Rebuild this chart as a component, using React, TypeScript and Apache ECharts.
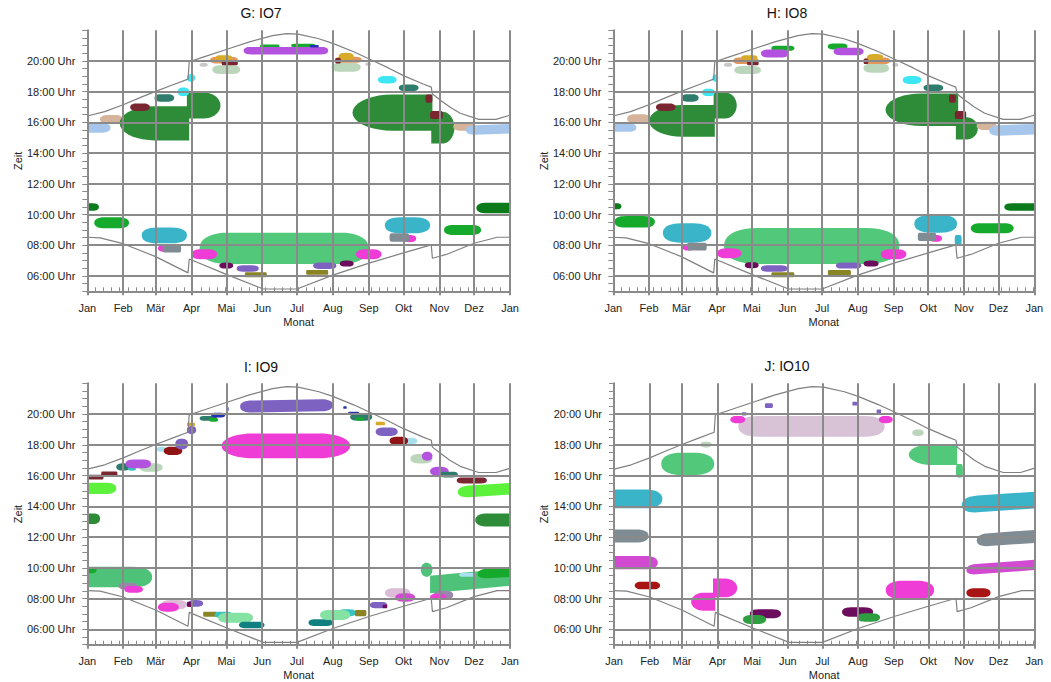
import React, { useEffect, useRef } from 'react';
import * as echarts from 'echarts';

// ---------- data ----------
const monthLabels = ['Jan', 'Feb', 'Mär', 'Apr', 'Mai', 'Jun', 'Jul', 'Aug', 'Sep', 'Okt', 'Nov', 'Dez', 'Jan'];
const monthStarts = [0, 31, 59, 90, 120, 151, 181, 212, 243, 273, 304, 334, 365];
const hourLines = [6, 8, 10, 12, 14, 16, 18, 20];
const panelTitles = ['G: IO7', 'H: IO8', 'I: IO9', 'J: IO10'];

// [day of year, hour]
const sunsetCurve: number[][] = [
  [0, 16.42], [15, 16.7], [31, 17.15], [45, 17.6], [59, 18.02], [74, 18.45], [87, 18.82], [88, 19.95],
  [100, 20.25], [120, 20.75], [140, 21.25], [160, 21.65], [172, 21.78], [182, 21.75], [200, 21.45],
  [212, 21.15], [230, 20.6], [243, 20.15], [260, 19.55], [273, 19.05], [290, 18.5], [297, 18.3],
  [298, 17.85], [305, 17.45], [313, 17.0], [322, 16.6], [338, 16.2], [353, 16.2], [364, 16.45], [365, 16.47],
];
const sunriseCurve: number[][] = [
  [0, 8.52], [11, 8.48], [31, 8.1], [59, 7.26], [87, 6.2], [88, 7.1], [120, 6.1], [152, 5.15],
  [181, 5.15], [212, 6.05], [244, 6.85], [273, 7.5], [297, 8.02], [298, 7.15], [310, 7.4],
  [334, 8.13], [354, 8.52], [365, 8.52],
];

// shadow periods: [first day, last day, hour from, hour to, receptor colour key, cut side, rise over period (h)]
const blobsG: any[][] = [
  [0, 20, 15.33, 15.98, 'ltblue'], [11, 31, 15.93, 16.48, 'tan'],
  [28, 88, 14.83, 17.06, 'dkgreen', 'l'], [86, 115, 16.26, 17.95, 'dkgreen', 'r'],
  [37, 54, 16.74, 17.24, 'maroon'], [58, 75, 17.35, 17.84, 'dteal'], [78, 88, 17.71, 18.28, 'cyan'],
  [86, 93, 18.65, 19.15, 'cyan'], [97, 104, 19.62, 19.88, 'ltgray'], [108, 132, 19.15, 19.73, 'palegreen'],
  [106, 130, 19.84, 20.27, 'orange'], [111, 125, 20.06, 20.38, 'gold'], [116, 130, 19.73, 20.06, 'maroon', 's'],
  [149, 166, 20.86, 21.08, 'green'], [176, 197, 20.9, 21.12, 'green'], [135, 208, 20.43, 20.92, 'violet'],
  [192, 200, 20.88, 21.05, 'blue'],
  [211, 236, 19.3, 19.88, 'palegreen'], [214, 237, 19.88, 20.27, 'orange'], [217, 230, 20.06, 20.53, 'gold'],
  [214, 219, 19.84, 20.2, 'maroon', 's'], [240, 245, 19.68, 19.9, 'ltgray'], [251, 267, 18.54, 19.02, 'cyan'],
  [269, 286, 18.04, 18.47, 'dteal'], [229, 298, 15.46, 17.82, 'dkgreen', 'l'], [297, 317, 14.63, 16.69, 'dkgreen', 'r'],
  [292, 298, 17.28, 17.82, 'maroon', 's'], [296, 307, 16.22, 16.74, 'maroon', 's'],
  [316, 335, 15.46, 15.98, 'tan'], [327, 365, 15.18, 15.8, 'ltblue', 'p', 0.1],
  [0, 10, 10.25, 10.73, 'forest'], [6, 36, 9.1, 9.82, 'green'], [47, 86, 8.13, 9.15, 'teal'],
  [61, 71, 7.58, 8.02, 'magenta'], [65, 81, 7.52, 8.02, 'gray', 's'], [97, 243, 6.78, 8.82, 'ltgreen'],
  [90, 112, 7.08, 7.74, 'magenta'], [232, 254, 7.08, 7.74, 'magenta'], [114, 126, 6.48, 6.87, 'dpurple'],
  [129, 148, 6.28, 6.69, 'mpurple'], [136, 155, 5.91, 6.24, 'olive', 's'], [189, 208, 6.07, 6.39, 'olive', 's'],
  [195, 215, 6.46, 6.87, 'mpurple'], [218, 230, 6.61, 7.0, 'dpurple'], [257, 296, 8.78, 9.82, 'teal'],
  [273, 284, 8.2, 8.67, 'magenta'], [261, 278, 8.23, 8.78, 'gray', 's'], [308, 340, 8.67, 9.32, 'green'],
  [336, 365, 10.08, 10.77, 'forest'],
];

const blobsH: any[][] = [
  [0, 20, 15.39, 15.93, 'ltblue'], [12, 32, 15.93, 16.54, 'tan'],
  [31, 88, 15.07, 17.13, 'dkgreen', 'l'], [87, 107, 16.26, 17.95, 'dkgreen', 'r'],
  [37, 54, 16.74, 17.24, 'maroon'], [59, 74, 17.35, 17.84, 'dteal'], [77, 88, 17.71, 18.2, 'cyan'],
  [86, 91, 18.65, 19.12, 'cyan'], [96, 103, 19.62, 19.88, 'ltgray'], [105, 128, 19.15, 19.67, 'palegreen'],
  [104, 126, 19.8, 20.23, 'orange'], [111, 125, 20.06, 20.38, 'gold'], [116, 126, 19.73, 20.0, 'maroon', 's'],
  [137, 157, 20.66, 20.99, 'green'], [128, 152, 20.23, 20.75, 'violet'],
  [186, 203, 20.75, 21.14, 'green'], [191, 217, 20.38, 20.86, 'violet'],
  [217, 239, 19.23, 19.84, 'palegreen'], [217, 240, 19.8, 20.23, 'orange'], [220, 234, 20.06, 20.45, 'gold'],
  [217, 221, 19.8, 20.15, 'maroon', 's'], [242, 247, 19.62, 19.88, 'ltgray'], [251, 267, 18.5, 19.02, 'cyan'],
  [269, 286, 18.04, 18.47, 'dteal'], [236, 299, 15.76, 17.89, 'dkgreen', 'l'], [297, 316, 14.89, 16.33, 'dkgreen', 'r'],
  [291, 297, 17.28, 17.82, 'maroon', 's'], [296, 306, 16.22, 16.74, 'maroon', 's'],
  [315, 332, 15.5, 16.04, 'tan'], [326, 365, 15.11, 15.8, 'ltblue', 'p', 0.1],
  [0, 7, 10.34, 10.73, 'forest'], [1, 36, 9.15, 9.9, 'green'], [43, 85, 8.17, 9.43, 'teal'],
  [60, 70, 7.65, 8.1, 'magenta'], [64, 81, 7.65, 8.17, 'gray', 's'], [96, 248, 6.78, 9.12, 'ltgreen'],
  [90, 111, 7.15, 7.8, 'magenta'], [232, 254, 7.08, 7.74, 'magenta'], [114, 126, 6.5, 6.9, 'dpurple'],
  [128, 151, 6.28, 6.69, 'mpurple'], [137, 157, 5.91, 6.24, 'olive', 's'], [186, 206, 6.02, 6.39, 'olive', 's'],
  [193, 215, 6.48, 6.87, 'mpurple'], [217, 230, 6.61, 7.0, 'dpurple'], [261, 298, 8.82, 9.97, 'teal'],
  [274, 285, 8.22, 8.67, 'magenta'], [264, 280, 8.28, 8.82, 'gray', 's'], [296, 302, 8.02, 8.67, 'teal', 's'],
  [310, 347, 8.78, 9.43, 'green'], [339, 365, 10.25, 10.73, 'forest'],
];

const blobsI: any[][] = [
  [0, 25, 14.8, 15.54, 'lime'], [1, 14, 15.75, 16.05, 'maroon', 's'], [12, 26, 15.9, 16.27, 'maroon', 's'],
  [0, 11, 12.85, 13.54, 'dkgreen'], [25, 37, 16.32, 16.8, 'dteal'], [35, 42, 16.32, 16.55, 'cyan2'],
  [45, 65, 16.25, 16.8, 'palegreen'], [33, 55, 16.47, 17.05, 'violet'], [60, 68, 17.55, 17.88, 'ltcyan'],
  [66, 82, 17.33, 17.88, 'dred'], [76, 87, 17.7, 18.4, 'mpurple'], [86, 93, 19.22, 19.44, 'gold', 's'],
  [86, 94, 18.7, 19.22, 'mpurple'], [97, 112, 19.57, 19.87, 'dteal'], [105, 113, 19.5, 19.75, 'green'],
  [107, 119, 19.78, 20.08, 'blue'], [120, 122, 20.2, 20.45, 'blue', 's'],
  [132, 212, 20.09, 20.87, 'mpurple', 'p', 0.1], [116, 227, 17.12, 18.74, 'magenta', 'e'],
  [221, 224, 20.35, 20.5, 'blue', 's'], [227, 246, 19.57, 20.05, 'dteal'], [225, 235, 19.95, 20.15, 'blue'],
  [232, 239, 19.57, 19.8, 'green'], [249, 257, 19.27, 19.5, 'gold', 's'], [249, 268, 18.57, 19.13, 'mpurple'],
  [266, 285, 18.05, 18.45, 'ltcyan'], [261, 277, 17.98, 18.53, 'dred'], [279, 298, 16.79, 17.4, 'palegreen'],
  [289, 298, 16.97, 17.55, 'violet'], [296, 312, 15.97, 16.58, 'violet'], [304, 320, 15.88, 16.25, 'dteal'],
  [319, 345, 15.49, 15.88, 'maroon'], [320, 365, 14.55, 15.3, 'lime', 'p', 0.22],
  [335, 365, 12.68, 13.54, 'dkgreen'],
  [0, 56, 8.73, 10.07, 'mgreen'], [0, 8, 9.65, 10.05, 'green'], [27, 43, 8.6, 9.03, 'grayviolet'],
  [32, 48, 8.38, 8.82, 'magenta'], [64, 86, 7.3, 7.9, 'pink'], [61, 79, 7.15, 7.73, 'magenta'],
  [87, 100, 7.47, 7.9, 'mpurple'], [86, 91, 7.45, 7.8, 'dpurple', 's'], [100, 112, 6.82, 7.15, 'olive', 's'],
  [110, 125, 6.75, 7.15, 'cyan2'], [113, 143, 6.43, 7.08, 'lgreen2'], [131, 153, 6.07, 6.5, 'darkteal'],
  [191, 212, 6.22, 6.65, 'darkteal'], [216, 232, 6.85, 7.3, 'cyan2'], [201, 227, 6.61, 7.26, 'lgreen2'],
  [231, 241, 6.85, 7.26, 'olive', 's'], [244, 259, 7.37, 7.78, 'mpurple'], [255, 259, 7.37, 7.6, 'dpurple', 's'],
  [257, 279, 8.06, 8.67, 'pink'], [266, 283, 7.8, 8.34, 'violet2'],
  [288, 298, 9.42, 10.33, 'mgreen', 'e'], [296, 365, 8.34, 9.48, 'mgreen', 'r', 0.5],
  [321, 335, 9.42, 9.68, 'ltcyan'], [337, 365, 9.3, 9.9, 'green', 'p', 0.1], [299, 316, 7.95, 8.51, 'grayviolet'],
  [296, 310, 7.9, 8.3, 'magenta'],
];

const blobsJ: any[][] = [
  [0, 42, 13.87, 15.1, 'teal'], [0, 30, 11.64, 12.5, 'gray'], [0, 38, 9.9, 10.77, 'violet2'],
  [18, 40, 8.6, 9.1, 'red'], [41, 87, 16.03, 17.49, 'ltgreen'], [75, 85, 17.83, 18.2, 'palegreen'],
  [86, 107, 8.08, 9.3, 'magenta', 'r'], [67, 88, 7.21, 8.38, 'magenta', 'l'],
  [108, 235, 18.53, 19.87, 'lilac'], [101, 114, 19.4, 19.88, 'magenta'], [230, 242, 19.4, 19.88, 'magenta'],
  [111, 115, 19.9, 20.12, 'mpurple', 's'], [131, 138, 20.4, 20.7, 'mpurple', 's'],
  [207, 212, 20.55, 20.8, 'mpurple', 's'], [228, 232, 20.05, 20.3, 'mpurple', 's'],
  [259, 269, 18.57, 19.0, 'palegreen'], [256, 298, 16.68, 18.05, 'ltgreen', 'l'], [297, 303, 15.88, 16.75, 'ltgreen', 's'],
  [302, 365, 13.54, 14.63, 'teal', 'p', 0.32],
  [315, 365, 11.36, 12.2, 'gray', 'p', 0.26],
  [306, 365, 9.53, 10.2, 'violet2', 'p', 0.32],
  [306, 327, 8.08, 8.67, 'red'], [236, 278, 7.95, 9.16, 'magenta'],
  [118, 145, 6.72, 7.3, 'dpurple'], [112, 132, 6.35, 6.93, 'jgreen'],
  [198, 225, 6.82, 7.43, 'dpurple'], [211, 231, 6.5, 7.04, 'jgreen'],
];

// ---------- styles ----------
const palette: Record<string, string> = {
  dkgreen: '#2e8c38', green: '#16aa2c', forest: '#0b7a1a', ltgreen: '#52c97a', mgreen: '#4fc27a',
  teal: '#3ab4c8', gray: '#808c94', magenta: '#f03cd6', violet: '#b452e0', mpurple: '#7e62c2',
  dpurple: '#6c0c5c', olive: '#8a8424', maroon: '#7a2630', tan: '#d6b49c', ltblue: '#a6c6ec',
  dteal: '#2e7c6c', cyan: '#3ce6f4', ltgray: '#c8c8c8', orange: '#e2965a', gold: '#d8aa2a',
  palegreen: '#bcd6bc', lime: '#5cf23c', pink: '#dcbcd6', dred: '#901414', blue: '#2232b4',
  darkteal: '#108080', lgreen2: '#84e2a2', cyan2: '#34c4c4', ltcyan: '#a8e0f0', grayviolet: '#9a86aa',
  violet2: '#d24ad2', lilac: '#d8c2d6', jgreen: '#2e9e40', red: '#a81414',
};
const FONT = '"Liberation Sans", Arial, Helvetica, sans-serif';
const GRID_COLOR = '#8a8a8a';
const CURVE_COLOR = '#808080';

const panelLayout = [
  { left: 87.3, top: 30.3, width: 422.7, height: 261, tx: 261, ty: 13 },
  { left: 613.3, top: 30.3, width: 421, height: 261, tx: 787, ty: 13 },
  { left: 87.3, top: 383.3, width: 422.7, height: 261.4, tx: 261, ty: 367 },
  { left: 614, top: 383.3, width: 420.3, height: 261.4, tx: 787, ty: 366 },
];
const panelBlobs = [blobsG, blobsH, blobsI, blobsJ];

function blobPoints(x: number, y: number, w: number, h: number, rxL: number, rxR: number, n: number, rise: number) {
  const cy = y + h / 2;
  const ry = h / 2;
  const pw = 2 / n;
  const sp = (v: number) => Math.sign(v) * Math.pow(Math.abs(v), pw);
  const pts: number[][] = [];
  const N = 18;
  for (let i = 0; i <= N; i++) {
    const t = -Math.PI / 2 + (Math.PI * i) / N;
    pts.push([x + w - rxR + rxR * sp(Math.cos(t)), cy + ry * sp(Math.sin(t))]);
  }
  for (let i = 0; i <= N; i++) {
    const t = Math.PI / 2 + (Math.PI * i) / N;
    pts.push([x + rxL + rxL * sp(Math.cos(t)), cy + ry * sp(Math.sin(t))]);
  }
  return pts.map(([px, py]) => [px, py - (rise * (px - x)) / w]);
}

function makeRender(blobs: any[][]) {
  return (params: any, api: any) => {
    const b = blobs[params.dataIndex];
    const d0 = api.value(0), d1 = api.value(1), h0 = api.value(2), h1 = api.value(3);
    const p0 = api.coord([d0, h1]);
    const p1 = api.coord([d1, h0]);
    const x = p0[0], y = p0[1];
    const w = Math.max(1, p1[0] - p0[0]);
    const h = Math.max(1, p1[1] - p0[1]);
    const dh = b[6] || 0;
    const rise = api.coord([d0, h0])[1] - api.coord([d0, h0 + dh])[1];
    const kind = b[5] || 'p';
    let rxL = Math.min(w / 2, h * 0.95), rxR = rxL, n = 2.3;
    if (kind === 'l') { rxL = Math.min(w / 2, h * 1.2); rxR = 0; n = 2; }
    else if (kind === 'r') { rxR = Math.min(w / 2, h * 1.2); rxL = 0; n = 2; }
    else if (kind === 'e') { rxL = rxR = Math.min(w / 2, h * 1.3); n = 2.1; }
    else if (kind === 's') { rxL = rxR = Math.min(w / 2, h / 2) * 0.6; n = 3; }
    if (d0 <= 0) rxL = 0;
    if (d1 >= 365) rxR = 0;
    return {
      type: 'polygon',
      shape: { points: blobPoints(x, y, w, h, rxL, rxR, n, rise) },
      style: { fill: palette[b[4]] },
    };
  };
}

const hourLabel = (v: number) => (hourLines.includes(v) ? `${String(v).padStart(2, '0')}:00 Uhr` : '');

function buildOption() {
  const grid = panelLayout.map((p) => ({ left: p.left, top: p.top, width: p.width, height: p.height }));
  const xAxis: any[] = [];
  const yAxis: any[] = [];
  const series: any[] = [];
  panelLayout.forEach((p, i) => {
    xAxis.push({
      type: 'value', gridIndex: i, min: 0, max: 365, interval: 7, position: 'bottom',
      axisLine: { show: true, lineStyle: { color: GRID_COLOR, width: 2 } },
      axisTick: { show: true, inside: true, length: 4, lineStyle: { color: GRID_COLOR, width: 1 } },
      axisLabel: { show: false }, splitLine: { show: false },
    });
    xAxis.push({
      type: 'value', gridIndex: i, min: 0, max: 365, position: 'bottom',
      axisLine: { show: false },
      axisTick: { show: true, customValues: monthStarts, length: 4, lineStyle: { color: GRID_COLOR, width: 2 } },
      axisLabel: {
        customValues: monthStarts, margin: 11, fontSize: 11, color: '#222', fontFamily: FONT,
        formatter: (v: number) => monthLabels[monthStarts.indexOf(v)] ?? '',
      },
      splitLine: { show: false },
      name: 'Monat', nameLocation: 'middle', nameGap: 25,
      nameTextStyle: { fontSize: 11, color: '#222', fontFamily: FONT },
    });
    yAxis.push({
      type: 'value', gridIndex: i, min: 5, max: 22, interval: 0.5,
      axisLine: { show: true, lineStyle: { color: GRID_COLOR, width: 2 } },
      axisTick: { show: true, length: 5, lineStyle: { color: GRID_COLOR, width: 1 } },
      axisLabel: { formatter: hourLabel, margin: 12, fontSize: 11, color: '#222', fontFamily: FONT },
      splitLine: { show: false },
      name: 'Zeit', nameLocation: 'middle', nameGap: 64,
      nameTextStyle: { fontSize: 11, color: '#222', fontFamily: FONT },
    });
    const blobs = panelBlobs[i];
    series.push({
      type: 'custom', xAxisIndex: 2 * i, yAxisIndex: i, z: 2, clip: true, silent: true,
      renderItem: makeRender(blobs),
      encode: { x: [0, 1], y: [2, 3] },
      data: blobs.map((b) => [b[0], b[1], b[2], b[3]]),
    });
    series.push({
      type: 'line', xAxisIndex: 2 * i, yAxisIndex: i, z: 4, silent: true, showSymbol: false, symbol: 'none',
      data: sunsetCurve, lineStyle: { color: CURVE_COLOR, width: 1.2 },
      markLine: {
        silent: true, symbol: ['none', 'none'], label: { show: false },
        lineStyle: { color: GRID_COLOR, width: 2, type: 'solid' },
        emphasis: { disabled: true },
        data: [...monthStarts.map((d) => ({ xAxis: d })), ...hourLines.map((h) => ({ yAxis: h }))],
      },
    });
    series.push({
      type: 'line', xAxisIndex: 2 * i, yAxisIndex: i, z: 4, silent: true, showSymbol: false, symbol: 'none',
      data: sunriseCurve, lineStyle: { color: CURVE_COLOR, width: 1.2 },
    });
  });
  const graphic = panelLayout.map((p, i) => ({
    type: 'text', x: p.tx, y: p.ty, silent: true,
    style: {
      text: panelTitles[i], fill: '#111', font: `14px ${FONT}`,
      align: 'center', verticalAlign: 'middle', textAlign: 'center', textVerticalAlign: 'middle',
    },
  }));
  return {
    animation: false,
    backgroundColor: '#ffffff',
    textStyle: { fontFamily: FONT },
    grid, xAxis, yAxis, series, graphic,
  };
}

export default function App() {
  const ref = useRef<HTMLDivElement>(null);
  useEffect(() => {
    if (!ref.current) return;
    const chart = echarts.init(ref.current, undefined, { renderer: 'svg' });
    chart.setOption(buildOption() as any);
    return () => chart.dispose();
  }, []);
  return (
    <div
      ref={ref}
      style={{ position: 'fixed', left: 0, top: 0, width: 1051, height: 682, background: '#fff' }}
    />
  );
}
